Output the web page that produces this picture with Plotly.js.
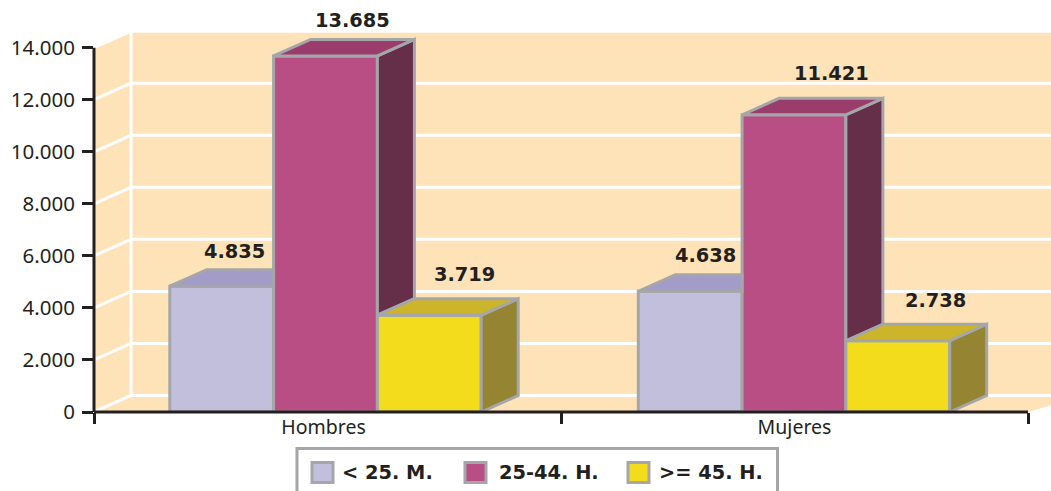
<!DOCTYPE html>
<html><head><meta charset="utf-8">
<script src="https://cdn.plot.ly/plotly-3.0.1.min.js"></script>
<style>html,body{margin:0;padding:0;background:#fff;overflow:hidden}</style>
</head><body><div id="chart" style="width:1051px;height:491px"></div>
<script>
(function () {
const categories = ['Hombres', 'Mujeres'];
const categoryCentres = [0.4957, 1.4989];
const labelCentres = [0.4915, 1.5];
const seriesNames = ['< 25. M.', '25-44. H.', '>= 45. H.'];
const menores25 = [4835, 4638];
const medios25a44 = [13685, 11421];
const mayores45 = [3719, 2738];
const seriesValues = [menores25, medios25a44, mayores45];
const yTicks = [0, 2000, 4000, 6000, 8000, 10000, 12000, 14000];

const frontColors = ['#C2BFDD', '#B94E84', '#F2DC1B'];
const topColors = ['#A49CC8', '#9A3D6C', '#CDB52B'];
const sideColors = ['#7D769B', '#652E49', '#958432'];
const EDGE = '#A5A6A9', WALL = '#FFE3B8', INK = '#231F20';

const W = 1051, H = 491, L = 94, B = 79;
const catPx = 467, yMaxPx = 412, pxPerUnit = 364.3 / 14000;
const depthX = 37 / catPx, depthY = 16.5 / pxPerUnit;
const barW = 103.8 / catPx;
const xEnd = 2, wallEnd = 2.12;
const xRangeMax = (W - L) / catPx, yRangeMax = yMaxPx / pxPerUnit;

const fmt = v => String(v).replace(/\B(?=(\d{3})+$)/g, '.');
const poly = (xs, ys, fill, line, width) => ({
  type: 'scatter', mode: 'lines', x: xs.concat(xs[0]), y: ys.concat(ys[0]), fill: 'toself',
  fillcolor: fill, line: {color: line || fill, width: width || 0.1},
  hoverinfo: 'skip', showlegend: false
});
const path = (xs, ys) => xs.map((x, k) => (k ? 'L' : 'M') + x + ',' + ys[k]).join(' ');
const traces = [];
// native front faces
seriesNames.forEach((n, i) => traces.push({
  type: 'bar', name: n, x: categoryCentres, y: seriesValues[i], width: barW,
  offset: (i - 1.5) * barW, showlegend: false,
  marker: {color: frontColors[i], line: {color: EDGE, width: 3}}, hoverinfo: 'x+y'
}));
// room: left wall + back wall + floor, beneath every trace
const wallTop = 14000 + depthY;
const shapes = [
  {type: 'path', xref: 'x', yref: 'y', layer: 'below', fillcolor: WALL, line: {width: 0},
   path: path([0, depthX, wallEnd, wallEnd, depthX, 0], [0, depthY, depthY, wallTop, wallTop, 14000]) + ' Z'},
  {type: 'path', xref: 'x', yref: 'y', layer: 'below', fillcolor: WALL, line: {width: 0},
   path: path([0, depthX, wallEnd, xEnd], [0, depthY, depthY, 0]) + ' Z'}
];
const gridLine = (xs, ys) => shapes.push({type: 'path', xref: 'x', yref: 'y', layer: 'below', line: {color: '#fff', width: 3}, path: path(xs, ys)});
yTicks.forEach(t => gridLine([0, depthX, wallEnd], [t, t + depthY, t + depthY]));
gridLine([depthX, depthX], [depthY, wallTop]);
// depth faces, back to front
categoryCentres.forEach((cc, c) => {
  seriesValues.forEach((vals, i) => {
    const v = vals[c];
    const xl = cc + (i - 1.5) * barW, xr = xl + barW;
    const next = i < seriesValues.length - 1 ? seriesValues[i + 1][c] : 0;
    if (next < v) {
      traces.push(poly([xr, xr + depthX, xr + depthX, xr], [next, next + depthY, v + depthY, v], sideColors[i], EDGE, 3));
      traces.push(poly([xl, xr, xr + depthX, xl + depthX], [v, v, v + depthY, v + depthY], topColors[i], EDGE, 3));
    } else {
      traces.push(poly([xl, xr, xr, xl + depthX], [v, v, v + depthY, v + depthY], topColors[i], EDGE, 3));
    }
  });
});
// axis lines: paper references are not clipped at the plot edge
const axisLine = (x0, y0, x1, y1) => shapes.push({type: 'line', xref: 'paper', yref: 'paper', layer: 'above',
  x0: x0 / xRangeMax, x1: x1 / xRangeMax, y0: y0 / yRangeMax, y1: y1 / yRangeMax, line: {color: INK, width: 3}});
axisLine(0, 0, 0, 14000);
axisLine(0, 0, xEnd, 0);

const px = x => (x - L) / (W - L);
const py = y => (H - B - y) / (H - B);
shapes.push({type: 'rect', xref: 'paper', yref: 'paper', x0: px(297), x1: px(777.5), y0: py(448.5), y1: py(496),
   fillcolor: '#fff', line: {color: EDGE, width: 3}, layer: 'above'});
const swatchX = [312, 465, 628], textX = [340, 497, 657];
const annotations = [];
seriesNames.forEach((n, i) => {
  shapes.push({type: 'rect', xref: 'paper', yref: 'paper', x0: px(swatchX[i]), x1: px(swatchX[i] + 21), y0: py(462.5), y1: py(482.5),
    fillcolor: frontColors[i], line: {color: EDGE, width: 3}, layer: 'above'});
  annotations.push({xref: 'paper', yref: 'paper', x: px(textX[i]), y: py(472), xanchor: 'left', yanchor: 'middle', showarrow: false,
    text: n.replace('<', '&lt;').replace('>', '&gt;'), font: {family: 'DejaVu Sans', size: 19.4, color: INK, weight: 700}});
});
// value labels
const labelShiftX = [[13, 15], [27, 38], [35, 38]];
const labelShiftY = [[35, 36], [35, 41], [41, 40]];
categoryCentres.forEach((cc, c) => seriesValues.forEach((vals, i) => {
  annotations.push({x: cc + (i - 1) * barW, y: vals[c], xref: 'x', yref: 'y', showarrow: false,
    xanchor: 'center', yanchor: 'middle', xshift: labelShiftX[i][c], yshift: labelShiftY[i][c],
    text: fmt(vals[c]), font: {family: 'DejaVu Sans', size: 19.4, color: INK, weight: 700}});
}));

Plotly.newPlot('chart', traces, {
  width: W, height: H, autosize: false, showlegend: false,
  margin: {l: L, r: 0, t: 0, b: B, pad: 0},
  paper_bgcolor: '#fff', plot_bgcolor: '#fff',
  barmode: 'overlay',
  separators: ',.',
  font: {family: 'Noto Sans', color: INK},
  xaxis: {type: 'linear', range: [0, xRangeMax], tickmode: 'array', tickvals: labelCentres, ticktext: categories,
    ticks: '', showgrid: false, zeroline: false, showline: false, tickfont: {family: 'Noto Sans', size: 19.5, color: INK},
    ticklabelstandoff: 1,
    minor: {tickmode: 'array', tickvals: [0, 1, 2], ticks: 'outside', ticklen: 11, tickwidth: 3, tickcolor: INK, showgrid: false}},
  yaxis: {range: [0, yRangeMax], tickmode: 'array', tickvals: yTicks, ticktext: yTicks.map(fmt), ticks: 'outside', ticklen: 11, tickwidth: 3,
    tickcolor: INK, showgrid: false, zeroline: false, showline: false, ticklabelstandoff: 3, tickfont: {family: 'Noto Sans', size: 20.5, color: INK}},
  shapes, annotations
}, {staticPlot: true, displayModeBar: false});
})();
</script></body></html>
